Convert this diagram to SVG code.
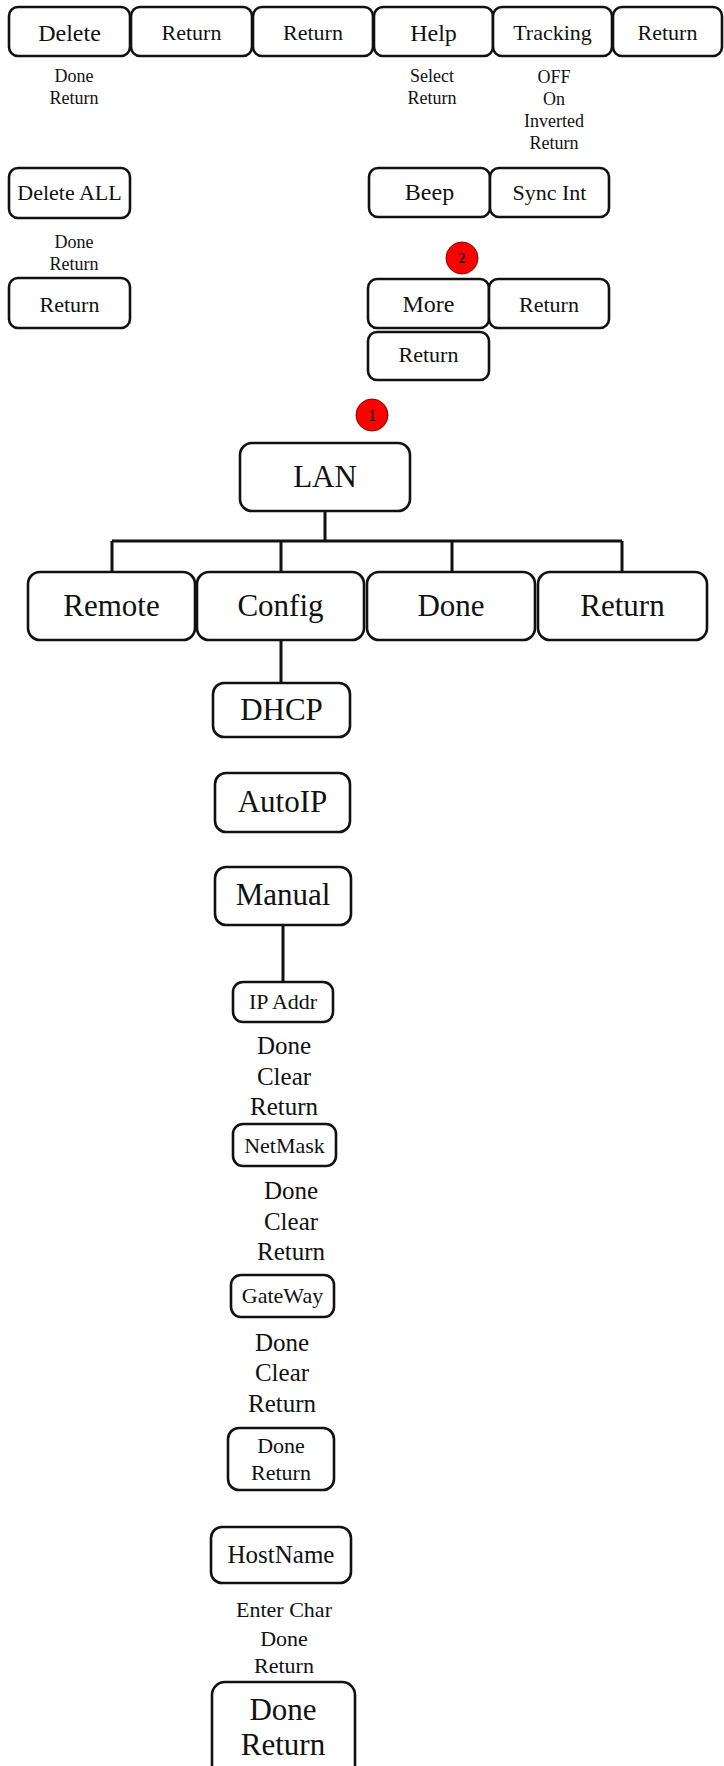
<svg xmlns="http://www.w3.org/2000/svg" width="724" height="1766" viewBox="0 0 724 1766">
<style>
.b{fill:#fff;stroke:#111;stroke-width:2.6}
.t{font-family:"Liberation Serif","Times New Roman",serif;fill:#111;text-anchor:middle}
.c{stroke:#111;stroke-width:3;fill:none}
.r{fill:#f00;stroke:#800;stroke-width:1}
</style>
<rect width="724" height="1766" fill="#fff"/>
<g id="connectors">
<path class="c" d="M325 511V541M112 541H622M112 541V572M281 541V572M452 541V572M622 541V572"/>
<path class="c" d="M281 640V683"/>
<path class="c" d="M283 925V982"/>
</g>
<g id="n-delete"><rect class="b" x="9" y="7" width="121" height="49" rx="9"/><text class="t" x="69.5" y="41" font-size="24">Delete</text></g>
<g id="n-return1"><rect class="b" x="131" y="7" width="121" height="49" rx="9"/><text class="t" x="191.5" y="40" font-size="22">Return</text></g>
<g id="n-return2"><rect class="b" x="253" y="7" width="120" height="49" rx="9"/><text class="t" x="313" y="40" font-size="22">Return</text></g>
<g id="n-help"><rect class="b" x="374" y="7" width="119" height="49" rx="9"/><text class="t" x="433.5" y="41" font-size="24">Help</text></g>
<g id="n-tracking"><rect class="b" x="493" y="7" width="119" height="49" rx="9"/><text class="t" x="552.5" y="40" font-size="22">Tracking</text></g>
<g id="n-return3"><rect class="b" x="613" y="7" width="109" height="49" rx="9"/><text class="t" x="667.5" y="40" font-size="22">Return</text></g>
<g id="l-delete" class="t" font-size="18"><text x="74" y="82">Done</text><text x="74" y="104">Return</text></g>
<g id="l-help" class="t" font-size="18"><text x="432" y="82">Select</text><text x="432" y="104">Return</text></g>
<g id="l-tracking" class="t" font-size="18"><text x="554" y="83">OFF</text><text x="554" y="105">On</text><text x="554" y="127">Inverted</text><text x="554" y="149">Return</text></g>
<g id="n-deleteall"><rect class="b" x="9" y="168" width="121" height="50" rx="9"/><text class="t" x="69.5" y="200" font-size="22">Delete ALL</text></g>
<g id="l-deleteall" class="t" font-size="18"><text x="74" y="248">Done</text><text x="74" y="270">Return</text></g>
<g id="n-return4"><rect class="b" x="9" y="278" width="121" height="50" rx="9"/><text class="t" x="69.5" y="312" font-size="22">Return</text></g>
<g id="n-beep"><rect class="b" x="369" y="168" width="121" height="49" rx="9"/><text class="t" x="429.5" y="200" font-size="24">Beep</text></g>
<g id="n-syncint"><rect class="b" x="490" y="168" width="119" height="49" rx="9"/><text class="t" x="549.5" y="200" font-size="22">Sync Int</text></g>
<g id="badge2"><circle class="r" cx="462" cy="258" r="16"/><text class="t" x="462" y="263" font-size="14" font-weight="bold">2</text></g>
<g id="n-more"><rect class="b" x="368" y="279" width="121" height="49" rx="9"/><text class="t" x="428.5" y="312" font-size="24">More</text></g>
<g id="n-return5"><rect class="b" x="489" y="279" width="120" height="49" rx="9"/><text class="t" x="549" y="312" font-size="22">Return</text></g>
<g id="n-return6"><rect class="b" x="368" y="332" width="121" height="48" rx="9"/><text class="t" x="428.5" y="362" font-size="22">Return</text></g>
<g id="badge1"><circle class="r" cx="372" cy="415" r="16"/><text class="t" x="372" y="421" font-size="17">1</text></g>
<g id="n-lan"><rect class="b" x="240" y="443" width="170" height="68" rx="12"/><text class="t" x="325" y="487" font-size="31">LAN</text></g>
<g id="n-remote"><rect class="b" x="28" y="572" width="167" height="68" rx="12"/><text class="t" x="111.5" y="616" font-size="31">Remote</text></g>
<g id="n-config"><rect class="b" x="197" y="572" width="167" height="68" rx="12"/><text class="t" x="280.5" y="616" font-size="31">Config</text></g>
<g id="n-done"><rect class="b" x="367" y="572" width="168" height="68" rx="12"/><text class="t" x="451" y="616" font-size="31">Done</text></g>
<g id="n-return7"><rect class="b" x="538" y="572" width="169" height="68" rx="12"/><text class="t" x="622.5" y="616" font-size="31">Return</text></g>
<g id="n-dhcp"><rect class="b" x="213" y="683" width="137" height="54" rx="11"/><text class="t" x="281.5" y="720" font-size="31">DHCP</text></g>
<g id="n-autoip"><rect class="b" x="215" y="773" width="135" height="59" rx="11"/><text class="t" x="282.5" y="812" font-size="31">AutoIP</text></g>
<g id="n-manual"><rect class="b" x="215" y="867" width="136" height="58" rx="11"/><text class="t" x="283" y="905" font-size="31">Manual</text></g>
<g id="n-ipaddr"><rect class="b" x="233" y="982" width="100" height="40" rx="10"/><text class="t" x="283" y="1009" font-size="22">IP Addr</text></g>
<g id="l-ipaddr" class="t" font-size="25"><text x="284" y="1054">Done</text><text x="284" y="1085">Clear</text><text x="284" y="1115">Return</text></g>
<g id="n-netmask"><rect class="b" x="233" y="1124" width="103" height="42" rx="10"/><text class="t" x="284.5" y="1153" font-size="22">NetMask</text></g>
<g id="l-netmask" class="t" font-size="25"><text x="291" y="1199">Done</text><text x="291" y="1230">Clear</text><text x="291" y="1260">Return</text></g>
<g id="n-gateway"><rect class="b" x="231" y="1275" width="103" height="42" rx="10"/><text class="t" x="282.5" y="1303" font-size="22">GateWay</text></g>
<g id="l-gateway" class="t" font-size="25"><text x="282" y="1351">Done</text><text x="282" y="1381">Clear</text><text x="282" y="1412">Return</text></g>
<g id="n-donereturn1"><rect class="b" x="228" y="1428" width="106" height="62" rx="11"/><text class="t" x="281" y="1453" font-size="22">Done</text><text class="t" x="281" y="1480" font-size="22">Return</text></g>
<g id="n-hostname"><rect class="b" x="211" y="1527" width="140" height="56" rx="11"/><text class="t" x="281" y="1563" font-size="25">HostName</text></g>
<g id="l-hostname" class="t" font-size="22"><text x="284" y="1617">Enter Char</text><text x="284" y="1646">Done</text><text x="284" y="1673">Return</text></g>
<g id="n-donereturn2"><rect class="b" x="212" y="1682" width="143" height="100" rx="13"/><text class="t" x="283" y="1720" font-size="31">Done</text><text class="t" x="283" y="1755" font-size="31">Return</text></g>
</svg>
